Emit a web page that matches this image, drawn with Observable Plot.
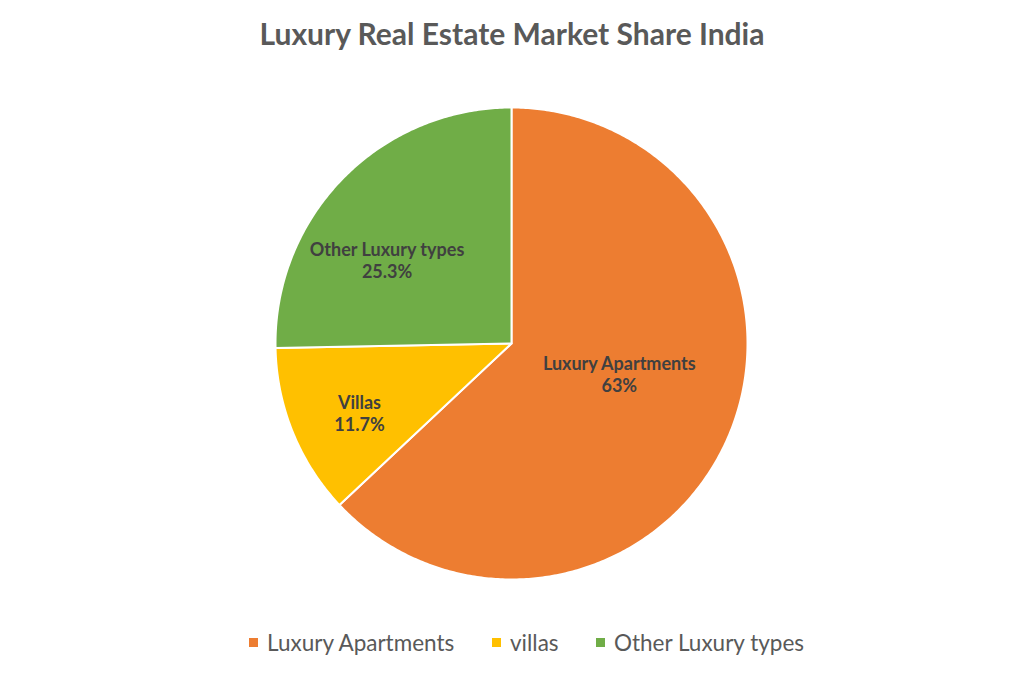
<!DOCTYPE html>
<html>
<head>
<meta charset="utf-8">
<script src="https://cdn.jsdelivr.net/npm/d3@7"></script>
<script src="https://cdn.jsdelivr.net/npm/@observablehq/plot@0.6"></script>
<style>
  html, body { margin: 0; padding: 0; background: #fff; width: 1024px; height: 682px; overflow: hidden; }
  #title { height: 70px; line-height: 66px; text-align: center; font-family: Lato, sans-serif; font-weight: 700; font-size: 30px; color: #595959; }
  #legend { position: relative; height: 40px; font-family: Lato, sans-serif; font-size: 22.5px; color: #595959; margin-top: 14px; }
  .item { position: absolute; top: 0; display: flex; align-items: center; white-space: nowrap; }
  .sw { width: 9px; height: 9px; margin-right: 9px; }
</style>
</head>
<body>
<div id="title"></div>
<div id="chart"></div>
<div id="legend"></div>
<script>
const title = "Luxury Real Estate Market Share India";
const categories = ["Luxury Apartments", "Villas", "Other Luxury types"];
const legendLabels = ["Luxury Apartments", "villas", "Other Luxury types"];
const shares = [63, 11.7, 25.3];
const shareLabels = ["63%", "11.7%", "25.3%"];
const colors = ["#ED7D31", "#FFC000", "#70AD47"];

document.getElementById("title").textContent = title;

// layout (pixels)
const W = 1024, H = 545, cx = 511, cy = 273, R = 236;
const labelRadius = [0.47, 0.7, 0.62];
const labelShift = [[6, 14], [1, -7], [-20, -19]]; // px nudges (dx, dy-up)
const legendLeft = [249, 492, 596];

const total = d3.sum(shares);
const polys = [];
const labels = [];
let cum = 0;
categories.forEach((name, i) => {
  const a0 = cum / total * 2 * Math.PI;
  cum += shares[i];
  const a1 = cum / total * 2 * Math.PI;
  polys.push({name, x: 0, y: 0});
  const n = Math.max(2, Math.ceil((a1 - a0) / 0.01));
  for (let k = 0; k <= n; k++) {
    const a = a0 + (a1 - a0) * k / n;
    polys.push({name, x: Math.sin(a), y: Math.cos(a)});
  }
  const am = (a0 + a1) / 2;
  labels.push({
    name,
    text: name + "\n" + shareLabels[i],
    x: labelRadius[i] * Math.sin(am) + labelShift[i][0] / R,
    y: labelRadius[i] * Math.cos(am) + labelShift[i][1] / R
  });
});

const chart = Plot.plot({
  width: W,
  height: H,
  margin: 0,
  x: {domain: [-cx / R, (W - cx) / R], axis: null},
  y: {domain: [-(H - cy) / R, cy / R], axis: null},
  color: {domain: categories, range: colors},
  marks: [
    Plot.line(polys, {x: "x", y: "y", z: "name", fill: "name", stroke: "white", strokeWidth: 2, curve: "linear-closed", strokeLinejoin: "round"}),
    Plot.text(labels, {x: "x", y: "y", text: "text", fill: "#404040", fontSize: 18, fontWeight: "bold", lineHeight: 1.25, fontFamily: "Lato, sans-serif"})
  ]
});
chart.style.display = "block";
document.getElementById("chart").appendChild(chart);

const lg = document.getElementById("legend");
legendLabels.forEach((l, i) => {
  const it = document.createElement("div");
  it.className = "item";
  it.style.left = legendLeft[i] + "px";
  const sw = document.createElement("div");
  sw.className = "sw";
  sw.style.background = colors[i];
  const tx = document.createElement("span");
  tx.textContent = l;
  it.appendChild(sw); it.appendChild(tx);
  lg.appendChild(it);
});
</script>
</body>
</html>
